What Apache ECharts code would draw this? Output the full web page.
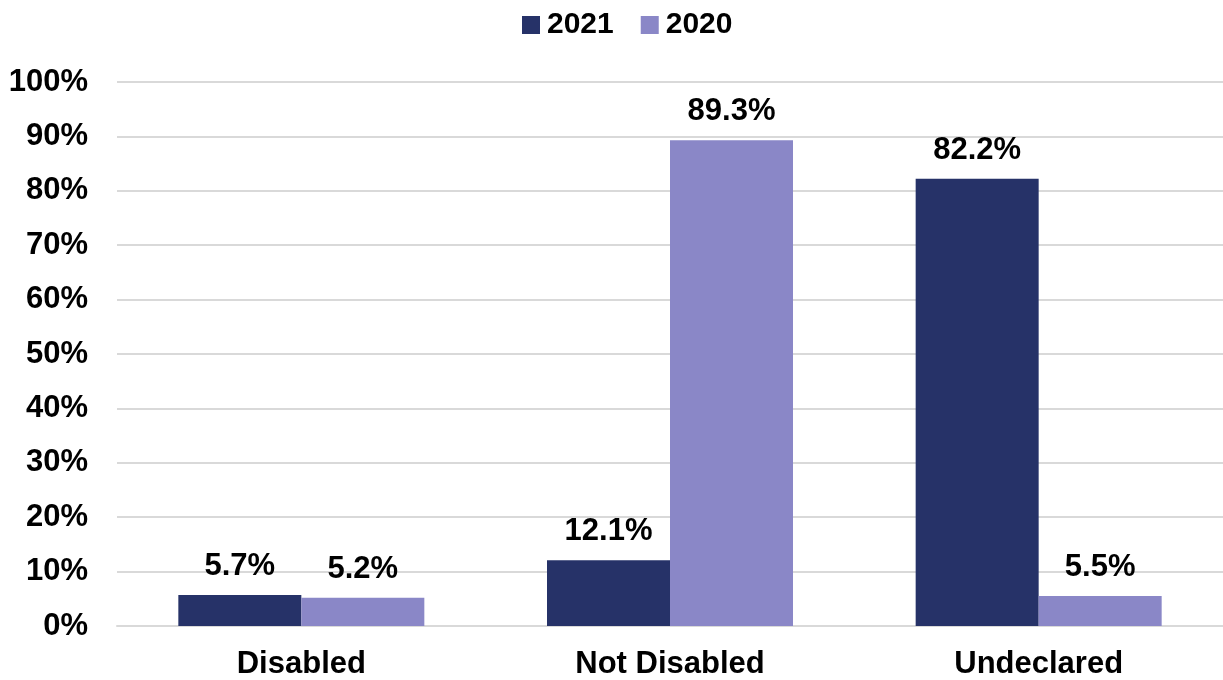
<!DOCTYPE html>
<html><head><meta charset="utf-8">
<script src="https://cdn.jsdelivr.net/npm/echarts@6/dist/echarts.min.js"></script>
<style>html,body{margin:0;padding:0;background:#fff}#c{width:1223px;height:680px}</style>
</head><body><div id="c"></div>
<script>
const categories = ['Disabled', 'Not Disabled', 'Undeclared'];
const values2021 = [5.7, 12.1, 82.2];
const values2020 = [5.2, 89.3, 5.5];
const yTicks = [0, 10, 20, 30, 40, 50, 60, 70, 80, 90, 100];

const FONT = '"Liberation Sans", Arial, sans-serif';
const chart = echarts.init(document.getElementById('c'), null, {renderer: 'canvas'});
const lbl = {show: true, position: 'top', distance: 13, formatter: p => p.value.toFixed(1) + '%',
  color: '#000', fontSize: 31, fontWeight: 'bold', fontFamily: FONT};
chart.setOption({
  animation: false,
  legend: {top: 5, left: 517, itemWidth: 18, itemHeight: 18, itemGap: 27,
    icon: 'rect',
    textStyle: {color: '#000', fontSize: 30, fontWeight: 'bold', fontFamily: FONT, padding: [0, 0, 0, 2]},
    data: ['2021', '2020']},
  grid: {left: 117, right: 0, top: 82, bottom: 54, containLabel: false},
  xAxis: {type: 'category', data: categories,
    axisLine: {show: true, lineStyle: {color: '#d9d9d9', width: 2}},
    axisTick: {show: false},
    axisLabel: {color: '#000', fontSize: 31, fontWeight: 'bold', fontFamily: FONT, margin: 23}},
  yAxis: {type: 'value', min: 0, max: 100, interval: 10,
    axisLine: {show: false}, axisTick: {show: false},
    splitLine: {lineStyle: {color: '#d9d9d9', width: 2}},
    axisLabel: {color: '#000', fontSize: 31, fontWeight: 'bold', fontFamily: FONT, margin: 29,
      formatter: v => yTicks.includes(v) ? v + '%' : ''}},
  series: [
    {name: '2021', type: 'bar', data: values2021, barWidth: 123, barGap: '0%',
      itemStyle: {color: '#263268'}, label: lbl},
    {name: '2020', type: 'bar', data: values2020, barWidth: 123, barGap: '0%',
      itemStyle: {color: '#8a87c7'}, label: lbl}
  ]
});
</script></body></html>
